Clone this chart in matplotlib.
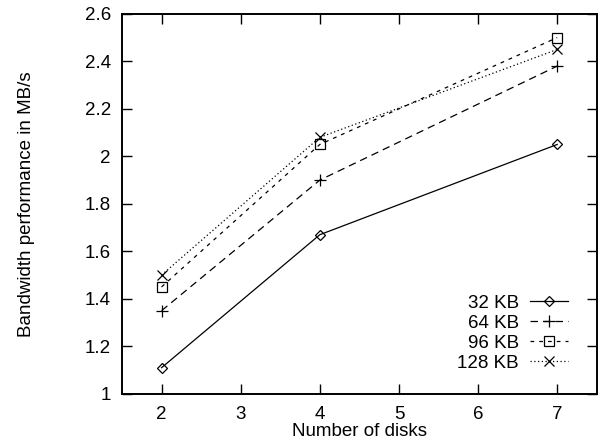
import matplotlib
matplotlib.use("Agg")
import matplotlib.pyplot as plt

plt.rcParams['font.family'] = ['Liberation Sans', 'DejaVu Sans']

disks = [2, 4, 7]
kb32 = [1.11, 1.67, 2.05]
kb64 = [1.35, 1.90, 2.38]
kb96 = [1.45, 2.05, 2.50]
kb128 = [1.50, 2.08, 2.45]
labels = ["32 KB", "64 KB", "96 KB", "128 KB"]

fig = plt.figure(figsize=(6.01, 4.46), dpi=100)
ax = fig.add_axes([0.203, 0.117, 0.790, 0.852])

ax.plot(disks, kb32, color="black", lw=0.9, ls="-", marker="D", ms=5,
        mfc="none", mew=0.9, label=labels[0])
ax.plot(disks, kb64, color="black", lw=0.9, ls=(0, (6, 4)), marker="+", ms=8,
        mew=0.9, label=labels[1])
ax.plot(disks, kb96, color="black", lw=0.9, ls=(0, (3, 4)), marker="s", ms=7,
        mfc="none", mew=0.9, label=labels[2])
ax.plot(disks, kb128, color="black", lw=0.9, ls=(0, (1, 2)), marker="x", ms=7,
        mew=0.9, label=labels[3])

ax.set_xlim(1.5, 7.5)
ax.set_ylim(1, 2.6)
ax.set_xticks([2, 3, 4, 5, 6, 7])
ax.set_yticks([1, 1.2, 1.4, 1.6, 1.8, 2, 2.2, 2.4, 2.6])
ax.set_yticklabels(["1", "1.2", "1.4", "1.6", "1.8", "2", "2.2", "2.4", "2.6"])
ax.tick_params(direction="in", length=7, width=1, top=True, right=True,
               labelsize=13.5)
ax.tick_params(axis="x", pad=9)
ax.tick_params(axis="y", pad=8)
for s in ax.spines.values():
    s.set_linewidth(1.4)

ax.set_xlabel("Number of disks", fontsize=13.5, labelpad=0)
ax.set_ylabel("Bandwidth performance in MB/s", fontsize=13.5, labelpad=36)

leg = ax.legend(loc="lower right", bbox_to_anchor=(0.939, 0.058), frameon=False,
                markerfirst=False, fontsize=13.5, handlelength=2.0,
                labelspacing=0.15, handletextpad=0.6, borderpad=0,
                borderaxespad=0)
for t in leg.get_texts():
    t.set_ha("right")

fig.savefig("out.png", dpi=100)
